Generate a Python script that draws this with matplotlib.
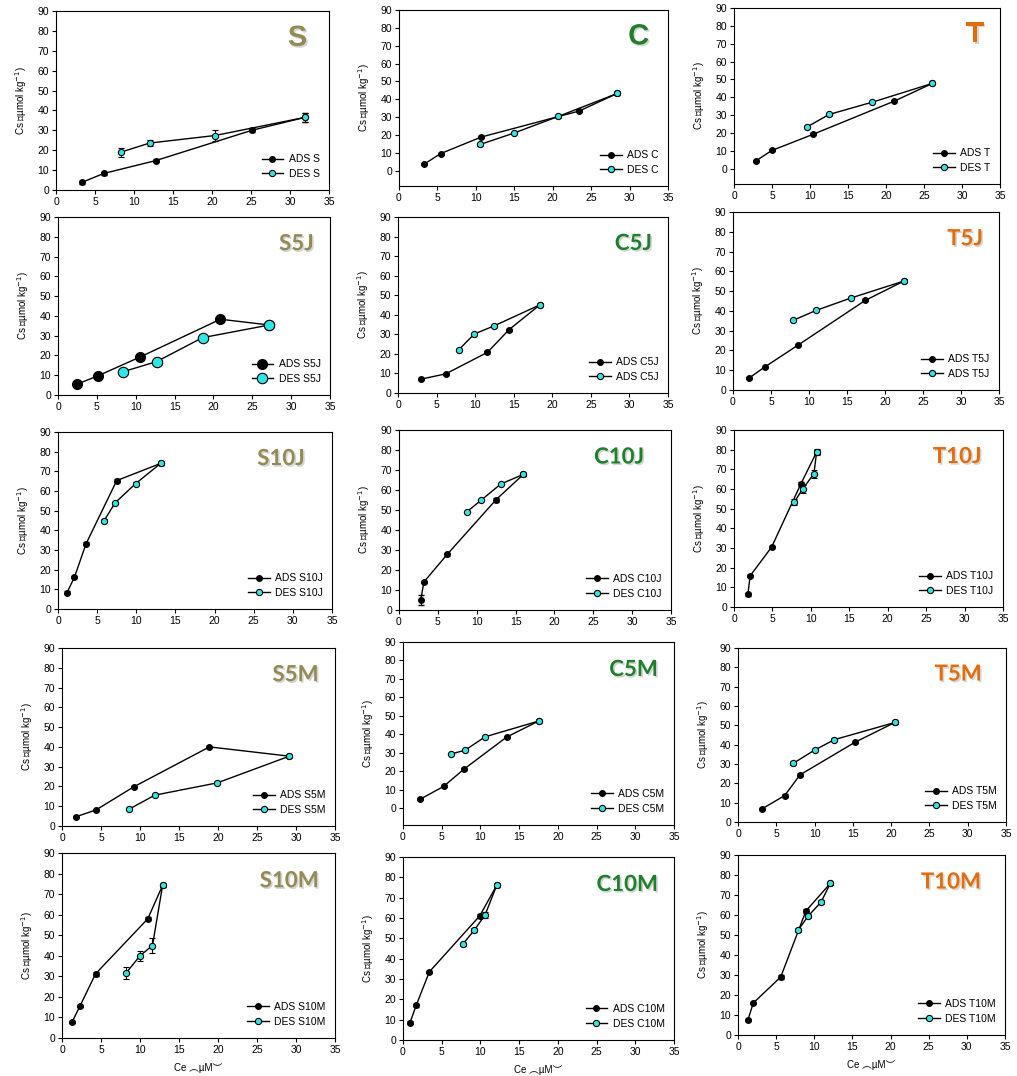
import matplotlib
matplotlib.use("Agg")
import matplotlib.pyplot as plt
import matplotlib.patheffects as pe

plt.rcParams['font.family'] = ['Liberation Sans', 'Noto Sans CJK JP', 'DejaVu Sans']

# --- isotherm data: Ce (uM) vs Cs (umol/kg), adsorption and desorption ---
S_ads_ce = [3.3, 6.1, 12.8, 25.1, 31.9]
S_ads_cs = [3.8, 8.3, 14.8, 30.0, 36.5]
S_ads_err = [0.6, 0.6, 0.6, 1.0, 2.3]
S_des_ce = [8.3, 12.0, 20.4, 31.9]
S_des_cs = [19.0, 23.6, 27.4, 36.5]
S_des_err = [2.3, 1.6, 2.7, 2.3]

C_ads_ce = [3.3, 5.4, 10.7, 23.4, 28.4]
C_ads_cs = [3.8, 9.6, 18.9, 33.4, 43.3]
C_ads_err = [0.7, 0.6, 0.6, 0.6, 0.6]
C_des_ce = [10.6, 15.0, 20.7, 28.4]
C_des_cs = [14.8, 21.2, 30.4, 43.3]
C_des_err = [0.8, 0.8, 0.6, 0.6]

T_ads_ce = [2.9, 5.0, 10.4, 21.1, 26.1]
T_ads_cs = [4.5, 10.3, 19.3, 37.9, 47.8]
T_ads_err = [0.6, 0.6, 0.6, 0.6, 0.6]
T_des_ce = [9.6, 12.5, 18.2, 26.1]
T_des_cs = [23.4, 30.4, 37.3, 47.8]
T_des_err = [0.8, 0.8, 0.6, 0.6]

S5J_ads_ce = [2.4, 5.2, 10.5, 20.9, 27.2]
S5J_ads_cs = [5.4, 9.8, 19.1, 38.3, 35.4]
S5J_ads_err = [0.0, 0.0, 0.0, 0.0, 0.0]
S5J_des_ce = [8.4, 12.7, 18.6, 27.2]
S5J_des_cs = [11.8, 16.9, 29.0, 35.4]
S5J_des_err = [0.0, 0.0, 0.0, 0.0]

C5J_ads_ce = [3.0, 6.2, 11.6, 14.4, 18.4]
C5J_ads_cs = [7.1, 9.8, 20.8, 32.4, 45.1]
C5J_ads_err = [0.5, 0.5, 0.5, 0.5, 0.5]
C5J_des_ce = [7.9, 9.9, 12.5, 18.4]
C5J_des_cs = [22.2, 30.2, 34.4, 45.1]
C5J_des_err = [0.5, 0.5, 0.5, 0.5]

T5J_ads_ce = [2.1, 4.2, 8.6, 17.4, 22.5]
T5J_ads_cs = [6.0, 11.7, 22.8, 45.3, 55.1]
T5J_ads_err = [0.5, 0.5, 0.5, 0.5, 0.5]
T5J_des_ce = [7.9, 10.9, 15.5, 22.5]
T5J_des_cs = [35.2, 40.2, 46.5, 55.1]
T5J_des_err = [0.5, 0.5, 0.5, 0.5]

S10J_ads_ce = [1.15, 2.1, 3.6, 7.5, 13.1]
S10J_ads_cs = [8.3, 16.2, 33.3, 65.3, 74.0]
S10J_ads_err = [0.6, 0.6, 0.6, 0.6, 0.8]
S10J_des_ce = [5.9, 7.3, 9.9, 13.1]
S10J_des_cs = [45.0, 54.0, 63.7, 74.0]
S10J_des_err = [0.6, 0.6, 0.8, 0.8]

C10J_ads_ce = [2.8, 3.2, 6.2, 12.5, 16.0]
C10J_ads_cs = [5.0, 14.0, 27.8, 55.2, 67.8]
C10J_ads_err = [2.5, 0.6, 0.6, 1.0, 0.6]
C10J_des_ce = [8.7, 10.6, 13.1, 16.0]
C10J_des_cs = [49.0, 55.0, 63.0, 67.8]
C10J_des_err = [0.6, 0.6, 0.6, 0.6]

T10J_ads_ce = [1.8, 2.1, 4.9, 8.7, 10.75]
T10J_ads_cs = [6.4, 15.8, 30.5, 62.6, 78.8]
T10J_ads_err = [0.6, 0.6, 0.6, 1.0, 1.2]
T10J_des_ce = [7.85, 8.95, 10.4, 10.75]
T10J_des_cs = [53.4, 60.1, 67.8, 78.8]
T10J_des_err = [1.5, 2.0, 2.0, 1.5]

S5M_ads_ce = [1.8, 4.35, 9.2, 18.9, 29.15]
S5M_ads_cs = [4.7, 8.1, 19.8, 40.0, 35.3]
S5M_ads_err = [0.5, 0.5, 0.5, 0.5, 0.5]
S5M_des_ce = [8.6, 11.9, 19.9, 29.15]
S5M_des_cs = [8.5, 15.6, 21.8, 35.3]
S5M_des_err = [0.5, 0.5, 0.5, 0.5]

C5M_ads_ce = [2.2, 5.25, 7.9, 13.4, 17.5]
C5M_ads_cs = [4.9, 11.9, 21.3, 38.6, 47.2]
C5M_ads_err = [0.6, 0.6, 0.6, 0.6, 0.6]
C5M_des_ce = [6.15, 8.0, 10.6, 17.5]
C5M_des_cs = [29.4, 31.4, 38.7, 47.2]
C5M_des_err = [0.6, 0.6, 0.6, 0.6]

T5M_ads_ce = [3.1, 6.1, 8.1, 15.3, 20.5]
T5M_ads_cs = [6.7, 13.7, 24.4, 41.3, 51.5]
T5M_ads_err = [0.6, 0.6, 0.6, 0.6, 0.6]
T5M_des_ce = [7.2, 10.0, 12.6, 20.5]
T5M_des_cs = [30.3, 37.2, 42.6, 51.5]
T5M_des_err = [0.6, 0.6, 0.6, 0.6]

S10M_ads_ce = [1.3, 2.3, 4.3, 11.0, 12.9]
S10M_ads_cs = [7.8, 15.5, 31.2, 58.0, 74.3]
S10M_ads_err = [0.6, 0.6, 0.8, 0.8, 0.8]
S10M_des_ce = [8.2, 10.0, 11.6, 12.9]
S10M_des_cs = [31.5, 40.0, 45.0, 74.3]
S10M_des_err = [3.0, 2.5, 3.5, 0.8]

C10M_ads_ce = [0.9, 1.7, 3.4, 9.9, 12.1]
C10M_ads_cs = [8.5, 17.0, 33.5, 61.0, 76.0]
C10M_ads_err = [0.6, 0.6, 0.6, 0.8, 0.6]
C10M_des_ce = [7.7, 9.2, 10.6, 12.1]
C10M_des_cs = [47.0, 54.0, 61.5, 76.0]
C10M_des_err = [0.8, 1.0, 1.5, 0.6]

T10M_ads_ce = [1.3, 2.0, 5.6, 8.9, 12.1]
T10M_ads_cs = [7.5, 16.0, 29.0, 62.0, 75.8]
T10M_ads_err = [0.6, 0.6, 0.8, 0.8, 0.6]
T10M_des_ce = [7.9, 9.2, 10.9, 12.1]
T10M_des_cs = [52.5, 59.5, 66.5, 75.8]
T10M_des_err = [0.8, 1.0, 0.8, 0.6]

# panel name, legend labels, ads/des series
panels = [
    ("S", "ADS S", "DES S", S_ads_ce, S_ads_cs, S_ads_err, S_des_ce, S_des_cs, S_des_err),
    ("C", "ADS C", "DES C", C_ads_ce, C_ads_cs, C_ads_err, C_des_ce, C_des_cs, C_des_err),
    ("T", "ADS T", "DES T", T_ads_ce, T_ads_cs, T_ads_err, T_des_ce, T_des_cs, T_des_err),
    ("S5J", "ADS S5J", "DES S5J", S5J_ads_ce, S5J_ads_cs, S5J_ads_err, S5J_des_ce, S5J_des_cs, S5J_des_err),
    ("C5J", "ADS C5J", "ADS C5J", C5J_ads_ce, C5J_ads_cs, C5J_ads_err, C5J_des_ce, C5J_des_cs, C5J_des_err),
    ("T5J", "ADS T5J", "ADS T5J", T5J_ads_ce, T5J_ads_cs, T5J_ads_err, T5J_des_ce, T5J_des_cs, T5J_des_err),
    ("S10J", "ADS S10J", "DES S10J", S10J_ads_ce, S10J_ads_cs, S10J_ads_err, S10J_des_ce, S10J_des_cs, S10J_des_err),
    ("C10J", "ADS C10J", "DES C10J", C10J_ads_ce, C10J_ads_cs, C10J_ads_err, C10J_des_ce, C10J_des_cs, C10J_des_err),
    ("T10J", "ADS T10J", "DES T10J", T10J_ads_ce, T10J_ads_cs, T10J_ads_err, T10J_des_ce, T10J_des_cs, T10J_des_err),
    ("S5M", "ADS S5M", "DES S5M", S5M_ads_ce, S5M_ads_cs, S5M_ads_err, S5M_des_ce, S5M_des_cs, S5M_des_err),
    ("C5M", "ADS C5M", "DES C5M", C5M_ads_ce, C5M_ads_cs, C5M_ads_err, C5M_des_ce, C5M_des_cs, C5M_des_err),
    ("T5M", "ADS T5M", "DES T5M", T5M_ads_ce, T5M_ads_cs, T5M_ads_err, T5M_des_ce, T5M_des_cs, T5M_des_err),
    ("S10M", "ADS S10M", "DES S10M", S10M_ads_ce, S10M_ads_cs, S10M_ads_err, S10M_des_ce, S10M_des_cs, S10M_des_err),
    ("C10M", "ADS C10M", "DES C10M", C10M_ads_ce, C10M_ads_cs, C10M_ads_err, C10M_des_ce, C10M_des_cs, C10M_des_err),
    ("T10M", "ADS T10M", "DES T10M", T10M_ads_ce, T10M_ads_cs, T10M_ads_err, T10M_des_ce, T10M_des_cs, T10M_des_err),
]

# axes boxes in pixels: left, right, top, bottom
boxes = [
    (56, 329, 11, 190), (399, 668, 10, 186), (734, 1000, 8, 184),
    (58, 330, 217, 395), (398, 668, 217, 393), (733, 999, 212, 390),
    (58, 332, 432, 609), (399, 671, 430, 610), (734, 1003, 430, 607),
    (62, 335, 648, 826), (403, 674, 642, 825), (738, 1006, 648, 822),
    (62, 335, 853, 1038), (403, 674, 857, 1040), (738, 1005, 855, 1035),
]
low_floor = {"C": -8.5, "T": -8.5, "C5M": -9}
# right edge of the big panel letters, axes fraction
name_right = {"S": 0.92, "C": 0.93, "T": 0.94, "S10J": 0.90, "C10J": 0.90,
              "T10J": 0.92, "T5M": 0.91, "T10M": 0.91}

family_colors = {"S": "#948a54", "C": "#1f7f2a", "T": "#e36c0a"}
cyan = "#2ee6e6"
W, H = 1017, 1076

fig = plt.figure(figsize=(W / 100, H / 100), dpi=100)

for i, (name, lab_a, lab_d, ax_ce, ax_cs, ax_er, de_ce, de_cs, de_er) in enumerate(panels):
    l, r, t, b = boxes[i]
    ax = fig.add_axes([l / W, 1 - b / H, (r - l) / W, (b - t) / H])
    big = name == "S5J"
    ms = 7 if big else 4
    ax.errorbar(ax_ce, ax_cs, yerr=ax_er, color="black", lw=1, marker="o",
                ms=ms, mfc="black", mec="black", capsize=2.5, elinewidth=0.8,
                label=lab_a, zorder=3)
    ax.errorbar(de_ce, de_cs, yerr=de_er, color="black", lw=1, marker="o",
                ms=ms + 0.5, mfc=cyan, mec="black", mew=0.8, capsize=2.5,
                elinewidth=0.8, label=lab_d, zorder=4)

    ax.set_xlim(0, 35)
    ax.set_ylim(low_floor.get(name, 0), 90)
    ax.set_xticks(range(0, 36, 5))
    ax.set_yticks(range(0, 91, 10))
    ax.tick_params(direction="out", length=3, width=0.8, labelsize=7.5,
                   colors="black", pad=2)
    for sp in ax.spines.values():
        sp.set_linewidth(0.8)

    ax.set_ylabel("Cs ︵µmol kg$^{-1}$)", fontsize=7, labelpad=6)
    if i >= 12:
        ax.set_xlabel("Ce ︵µM︶", fontsize=7, labelpad=6)

    hs, ls = ax.get_legend_handles_labels()
    hs = [h[0] for h in hs]
    ax.legend(hs, ls, loc="lower right", bbox_to_anchor=(1.0, 0.01),
              frameon=False, fontsize=7.5, handlelength=2.1,
              labelspacing=0.45, handletextpad=0.5)

    colour = family_colors[name[0]]
    if len(name) == 1:
        kw = dict(family="Liberation Sans", fontsize=21)
    else:
        kw = dict(family="Lato", fontsize=16)
    ax.text(name_right.get(name, 0.94), 0.85, name, transform=ax.transAxes,
            ha="right", va="center", fontweight="bold", color=colour,
            path_effects=[pe.SimplePatchShadow(offset=(1.2, -1.2),
                                               shadow_rgbFace="#888888",
                                               alpha=0.35),
                          pe.Normal()], **kw)

fig.savefig("out.png", dpi=100)
